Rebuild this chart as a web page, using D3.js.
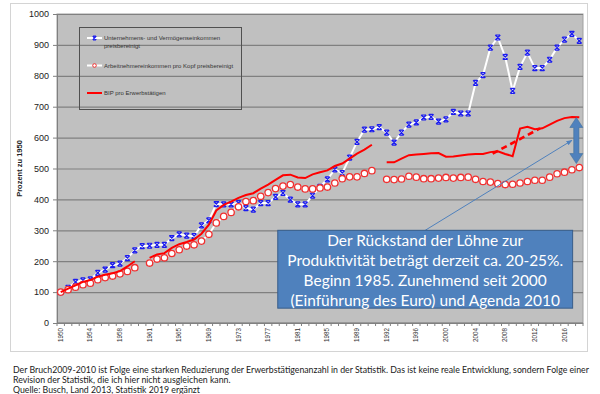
<!DOCTYPE html>
<html>
<head>
<meta charset="utf-8">
<script src="https://cdn.jsdelivr.net/npm/d3@7"></script>
<style>
  body { margin: 0; background: #fff; }
  svg { display: block; }
</style>
</head>
<body>
<div id="chart"></div>
<script>
/* categories: the series break in 1960 and 1991 (each year listed twice) */
var jahre = ["1950","1951","1952","1953","1954","1955","1956","1957","1958","1959","1960",
  "1960","1961","1962","1963","1964","1965","1966","1967","1968","1969","1970","1971","1972",
  "1973","1974","1975","1976","1977","1978","1979","1980","1981","1982","1983","1984","1985",
  "1986","1987","1988","1989","1990","1991",
  "1991","1992","1993","1994","1995","1996","1997","1998","1999","2000","2001","2002","2003",
  "2004","2005","2006","2007","2008","2009","2010","2011","2012","2013","2014","2015","2016",
  "2017","2018"];

/* Unternehmens- und Vermoegenseinkommen preisbereinigt (1950 = 100) */
var unternehmen = [100,114,133,138,141,162,173,187,192,210,
  235,249,250,253,253,275,287,283,281,316,
  332,385,384,384,388,372,367,388,388,408,
  421,399,384,384,412,441,465,497,485,535,
  586,626,627,634,616,584,616,642,649,665,
  667,652,659,683,678,678,777,802,891,924,
  861,751,829,875,825,825,852,891,917,936,913];

/* Arbeitnehmereinkommen pro Kopf preisbereinigt */
var arbeitnehmer = [100,108,116,124,129,140,147,152,159,167,
  179,null,194,207,211,225,237,249,253,265,
  287,324,345,358,376,393,396,410,422,435,
  443,448,440,434,434,437,440,453,467,473,
  473,484,493,null,465,464,466,475,472,467,
  467,469,471,469,471,472,465,458,456,451,
  448,449,453,458,462,462,472,483,488,496,503];

/* BIP pro Erwerbstaetigen */
var bip = [100,111,122,133,139,150,156,161,168,183,
  200,null,211,222,226,243,255,262,270,289,
  318,364,382,393,405,414,420,435,448,463,
  478,480,471,469,481,488,494,508,516,532,
  548,561,577,null,520,520,532,543,545,547,
  549,550,538,539,542,545,547,547,553,556,
  547,540,629,635,627,630,642,654,663,667,666];

/* dashed correction of the 2009/2010 break: [category index, value] */
var korrektur = [[58.3, 548], [64.7, 630]];

var yTicks = [0,100,200,300,400,500,600,700,800,900,1000];
var legendeTexte = [["Unternehmens- und Vermögenseinkommen", "preisbereinigt"],
  ["Arbeitnehmereinkommen pro Kopf preisbereinigt"],
  ["BIP pro Erwerbstätigen"]];
var kastenText = ["Der Rückstand der Löhne zur",
  "Produktivität beträgt derzeit ca. 20-25%.",
  "Beginn 1985. Zunehmend seit 2000",
  "(Einführung des Euro) und Agenda 2010"];
var fussnote = ["Der Bruch2009-2010 ist Folge eine starken Reduzierung der Erwerbstätigenanzahl in der Statistik. Das ist keine reale Entwicklung, sondern Folge einer",
  "Revision der Statistik, die ich hier nicht ausgleichen kann.",
  "Quelle: Busch, Land 2013, Statistik 2019 ergänzt"];

/* size of the graphic */
var width = 600, height = 394;
var pLeft = 57, pRight = 583, pTop = 14, pBottom = 323;

var svg = d3.select("#chart").append("svg")
  .attr("width", width)
  .attr("height", height)
  .style("font-family", "'Liberation Sans', Arial, sans-serif");

/* scales */
var x = d3.scaleBand().domain(d3.range(jahre.length)).range([pLeft, pRight]);
var bw = x.bandwidth();
var xi = d3.scaleLinear().domain([0, jahre.length - 1])
  .range([x(0) + bw / 2, x(jahre.length - 1) + bw / 2]);
var y = d3.scaleLinear().domain([0, 1000]).range([pBottom, pTop]);

/* outer frame and plot area */
svg.append("rect")
  .attr("x", 10.5).attr("y", 3.5).attr("width", 577).attr("height", 348)
  .attr("fill", "#fff").attr("stroke", "#d4d4d4");

svg.append("rect")
  .attr("x", pLeft).attr("y", pTop).attr("width", pRight - pLeft).attr("height", pBottom - pTop)
  .attr("fill", "#c0c0c0").attr("stroke", "#a0a0a0");

/* gridlines */
svg.append("g")
  .attr("transform", "translate(" + pLeft + ",0)")
  .call(d3.axisLeft(y).tickValues(yTicks).tickSize(-(pRight - pLeft)).tickFormat(""))
  .call(function(g) {
    g.select(".domain").remove();
    g.selectAll("line").attr("stroke", "#808080").attr("stroke-width", 1.2);
  });

/* y axis */
svg.append("g")
  .attr("transform", "translate(" + pLeft + ",0)")
  .call(d3.axisLeft(y).tickValues(yTicks).tickSize(4).tickPadding(4).tickFormat(d3.format("d")))
  .call(function(g) {
    g.select(".domain").attr("stroke", "#808080");
    g.selectAll("line").attr("stroke", "#808080");
    g.selectAll("text").attr("fill", "#222").style("font-size", "9px")
      .style("font-family", "'Liberation Sans', Arial, sans-serif");
  });

svg.append("text")
  .attr("transform", "translate(22," + ((pTop + pBottom) / 2) + ") rotate(-90)")
  .attr("text-anchor", "middle")
  .style("font-size", "7.5px")
  .style("font-weight", "bold")
  .attr("fill", "#222")
  .text("Prozent zu 1950");

/* x axis: ticks between categories, labels every 4th category */
svg.append("line")
  .attr("x1", pLeft).attr("x2", pRight).attr("y1", pBottom).attr("y2", pBottom)
  .attr("stroke", "#808080");

svg.append("g").selectAll("line")
  .data(d3.range(jahre.length + 1))
  .join("line")
    .attr("x1", function(i) { return pLeft + i * bw; })
    .attr("x2", function(i) { return pLeft + i * bw; })
    .attr("y1", pBottom).attr("y2", pBottom + 3)
    .attr("stroke", "#808080");

svg.append("g")
  .attr("transform", "translate(0," + pBottom + ")")
  .call(d3.axisBottom(x)
    .tickValues(d3.range(0, jahre.length, 4))
    .tickSize(0)
    .tickFormat(function(i) { return jahre[i]; }))
  .call(function(g) {
    g.select(".domain").remove();
    g.selectAll("text")
      .attr("transform", "rotate(-90)")
      .attr("text-anchor", "end")
      .attr("x", -5).attr("y", 0).attr("dy", "0.32em")
      .attr("fill", "#333")
      .style("font-size", "6.3px")
      .style("font-family", "'Liberation Sans', Arial, sans-serif");
  });

/* lines */
function linie(werte) {
  return d3.line()
    .defined(function(d) { return d != null; })
    .x(function(d, i) { return xi(i); })
    .y(function(d) { return y(d); })(werte);
}

function stern(g, cx, cy, s) {
  g.append("path")
    .attr("d", "M" + (cx - s) + "," + (cy - s) + "L" + (cx + s) + "," + (cy + s) +
      "M" + (cx + s) + "," + (cy - s) + "L" + (cx - s) + "," + (cy + s) +
      "M" + (cx - s * 0.8) + "," + (cy - s) + "H" + (cx + s * 0.8) +
      "M" + (cx - s * 0.8) + "," + (cy + s) + "H" + (cx + s * 0.8))
    .attr("stroke", "#1c1cf0").attr("stroke-width", 1.2).attr("fill", "none");
}

/* Unternehmenseinkommen: white line, blue star markers */
svg.append("path")
  .attr("d", linie(unternehmen))
  .attr("fill", "none").attr("stroke", "#fff").attr("stroke-width", 2);

var sterne = svg.append("g");
unternehmen.forEach(function(d, i) {
  if (d != null) stern(sterne, xi(i), y(d), 2.5);
});

/* Arbeitnehmereinkommen: white line, red circles */
svg.append("path")
  .attr("d", linie(arbeitnehmer))
  .attr("fill", "none").attr("stroke", "#fff").attr("stroke-width", 2);

svg.append("g").selectAll("circle")
  .data(arbeitnehmer.map(function(d, i) { return [i, d]; })
    .filter(function(d) { return d[1] != null; }))
  .join("circle")
    .attr("cx", function(d) { return xi(d[0]); })
    .attr("cy", function(d) { return y(d[1]); })
    .attr("r", 3.2)
    .attr("fill", "#fff")
    .attr("stroke", "#f03030")
    .attr("stroke-width", 1.3);

/* BIP pro Erwerbstaetigen: red line */
svg.append("path")
  .attr("d", linie(bip))
  .attr("fill", "none").attr("stroke", "#ff0000").attr("stroke-width", 2);

svg.append("path")
  .attr("d", d3.line()
    .x(function(d) { return xi(d[0]); })
    .y(function(d) { return y(d[1]); })(korrektur))
  .attr("fill", "none").attr("stroke", "#ff0000")
  .attr("stroke-width", 2.6).attr("stroke-dasharray", "6,4");

/* legend */
var leg = svg.append("g");
leg.append("rect")
  .attr("x", 79.5).attr("y", 27.5).attr("width", 162).attr("height", 82)
  .attr("fill", "none").attr("stroke", "#505050");

var legY = [38, 65.5, 93];
leg.append("line").attr("x1", 87).attr("x2", 102).attr("y1", legY[0]).attr("y2", legY[0])
  .attr("stroke", "#fff").attr("stroke-width", 2);
stern(leg, 94.5, legY[0], 1.8);
leg.append("line").attr("x1", 87).attr("x2", 102).attr("y1", legY[1]).attr("y2", legY[1])
  .attr("stroke", "#fff").attr("stroke-width", 2);
leg.append("circle").attr("cx", 94.5).attr("cy", legY[1]).attr("r", 1.8)
  .attr("fill", "#fff").attr("stroke", "#f03030").attr("stroke-width", 1);
leg.append("line").attr("x1", 87).attr("x2", 102).attr("y1", legY[2]).attr("y2", legY[2])
  .attr("stroke", "#ff0000").attr("stroke-width", 2);

legendeTexte.forEach(function(zeilen, k) {
  zeilen.forEach(function(t, j) {
    leg.append("text")
      .attr("class", "legtext")
      .attr("x", 104)
      .attr("y", legY[k] + j * 7.5)
      .attr("dy", "0.35em")
      .attr("fill", "#333")
      .style("font-size", "6.2px")
      .text(t);
  });
});

/* annotation: double arrow between productivity and wages */
var pfeilX = xi(69.6), p1 = y(665), p2 = y(516);
svg.append("path")
  .attr("d", "M" + pfeilX + "," + p1 +
    "L" + (pfeilX + 6.5) + "," + (p1 + 10) + "L" + (pfeilX + 2.6) + "," + (p1 + 10) +
    "L" + (pfeilX + 2.6) + "," + (p2 - 10) + "L" + (pfeilX + 6.5) + "," + (p2 - 10) +
    "L" + pfeilX + "," + p2 +
    "L" + (pfeilX - 6.5) + "," + (p2 - 10) + "L" + (pfeilX - 2.6) + "," + (p2 - 10) +
    "L" + (pfeilX - 2.6) + "," + (p1 + 10) + "L" + (pfeilX - 6.5) + "," + (p1 + 10) + "Z")
  .attr("fill", "#4f81bd").attr("stroke", "#41719c").attr("stroke-width", 0.6);

/* text box with callout arrow */
var kx1 = xi(29.3), kx2 = xi(69.1), ky1 = y(300), ky2 = y(48);

svg.append("defs").append("marker")
  .attr("id", "spitze")
  .attr("viewBox", "0 0 10 10").attr("refX", 9).attr("refY", 5)
  .attr("markerWidth", 6).attr("markerHeight", 6).attr("orient", "auto")
  .append("path").attr("d", "M0,1L10,5L0,9Z").attr("fill", "#4f81bd");

svg.append("line")
  .attr("x1", (kx1 + kx2) / 2).attr("y1", ky1)
  .attr("x2", xi(69)).attr("y2", y(591))
  .attr("stroke", "#4f81bd").attr("stroke-width", 1)
  .attr("marker-end", "url(#spitze)");

svg.append("rect")
  .attr("x", kx1).attr("y", ky1).attr("width", kx2 - kx1).attr("height", ky2 - ky1)
  .attr("fill", "#4f81bd").attr("stroke", "#385d8a").attr("stroke-width", 1);

var kt = svg.append("g").selectAll("text")
  .data(kastenText)
  .join("text")
    .attr("x", (kx1 + kx2) / 2)
    .attr("y", function(d, i) { return ky1 + 10 + i * 20; })
    .attr("dy", "0.36em")
    .attr("text-anchor", "middle")
    .attr("fill", "#fff")
    .style("font-family", "Lato, 'Open Sans', sans-serif")
    .style("font-size", "16px")
    .text(function(d) { return d; });

/* footnote */
var ft = svg.append("g").selectAll("text")
  .data(fussnote)
  .join("text")
    .attr("x", 13)
    .attr("y", function(d, i) { return 373 + i * 10; })
    .attr("fill", "#1a1a1a")
    .style("font-family", "Lato, 'Open Sans', sans-serif")
    .style("font-size", "9px")
    .text(function(d) { return d; });

/* fit font sizes to the widths of the original */
function anpassen(sel, node, ziel) {
  var w = node.getComputedTextLength();
  var fs = parseFloat(d3.select(node).style("font-size"));
  sel.style("font-size", (fs * ziel / w) + "px");
}
anpassen(kt, kt.nodes()[1], 276);
anpassen(ft, ft.nodes()[0], 577);
var lt = svg.selectAll(".legtext");
anpassen(lt, lt.nodes()[0], 116);
</script>
</body>
</html>
